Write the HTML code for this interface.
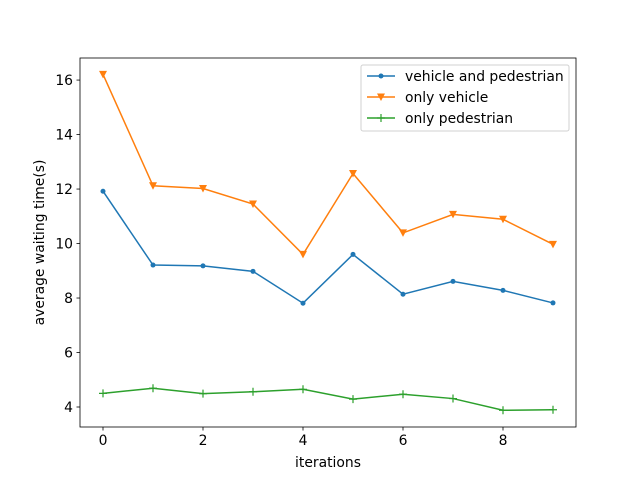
<!DOCTYPE html>
<html><head><meta charset="utf-8"><style>body{margin:0;background:#fff}svg{display:block;font-family:"DejaVu Sans","Liberation Sans",sans-serif}</style></head>
<body>
<svg id="chart" width="640" height="480" xmlns="http://www.w3.org/2000/svg">
<rect x="0" y="0" width="640" height="480" fill="#fff"/>
<g id="plot"></g>
</svg>
<script>
const iterations = [0,1,2,3,4,5,6,7,8,9];
const vehicleAndPedestrian = [11.92,9.21,9.18,8.98,7.81,9.6,8.14,8.61,8.28,7.82];
const onlyVehicle = [16.21,12.12,12.02,11.45,9.6,12.57,10.39,11.07,10.89,9.97];
const onlyPedestrian = [4.5,4.69,4.49,4.56,4.65,4.29,4.47,4.31,3.88,3.9];
const xTicks = [0,2,4,6,8];
const yTicks = [4,6,8,10,12,14,16];
const seriesNames = ["vehicle and pedestrian","only vehicle","only pedestrian"];

const NS="http://www.w3.org/2000/svg";
const L=80,R=576,T=58,B=427;
const FS=13.9;
const xMin=-0.46,xMax=9.46,yMin=3.266,yMax=16.81;
const xs=v=>L+(v-xMin)/(xMax-xMin)*(R-L);
const ys=v=>B-(v-yMin)/(yMax-yMin)*(B-T);
const g=document.getElementById('plot');
function mk(tag,attrs,parent){const e=document.createElementNS(NS,tag);for(const k in attrs)e.setAttribute(k,attrs[k]);(parent||g).appendChild(e);return e;}

const frame=mk('rect',{x:L,y:T,width:R-L,height:B-T,fill:'none',stroke:'#000','stroke-width':0.8});



xTicks.forEach(v=>{
  const t=mk('line',{x1:xs(v),x2:xs(v),y1:B,y2:B+3.5,stroke:'#000','stroke-width':0.8});
  
  
  const l=mk('text',{x:xs(v),y:B+18,'text-anchor':'middle','font-size':FS});
  l.textContent=v;
  
  
});
yTicks.forEach(v=>{
  const t=mk('line',{x1:L-3.5,x2:L,y1:ys(v),y2:ys(v),stroke:'#000','stroke-width':0.8});
  
  
  const l=mk('text',{x:L-7,y:ys(v)+5,'text-anchor':'end','font-size':FS});
  l.textContent=v;
  
  
});
const xt=mk('text',{x:(L+R)/2,y:467,'text-anchor':'middle','font-size':FS});
xt.textContent='iterations';


const yt=mk('text',{x:0,y:0,'text-anchor':'middle','font-size':FS,transform:`translate(44,${(T+B)/2}) rotate(-90)`});
yt.textContent='average waiting time(s)';



function marker(type,x,y,color,parent){
  if(type==='dot')return mk('circle',{cx:x,cy:y,r:2.5,fill:color},parent);
  if(type==='tri')return mk('path',{d:`M${x-4},${y-3.5}L${x+4},${y-3.5}L${x},${y+4}Z`,fill:color},parent);
  return mk('path',{d:`M${x-4},${y}H${x+4}M${x},${y-4}V${y+4}`,stroke:color,'stroke-width':1.2},parent);
}
const series=[[vehicleAndPedestrian,'#1f77b4','dot'],[onlyVehicle,'#ff7f0e','tri'],[onlyPedestrian,'#2ca02c','plus']];
series.forEach(([vals,c,m],si)=>{
  const sg=mk('g',{});
  
  
  const pl=mk('polyline',{points:vals.map((v,i)=>xs(iterations[i])+','+ys(v)).join(' '),fill:'none',stroke:c,'stroke-width':1.5},sg);
  
  
  vals.forEach((v,i)=>{const p=marker(m,xs(iterations[i]),ys(v),c,sg);
    
    });
});
const lg=mk('g',{});


mk('rect',{x:361,y:65,width:208,height:66,rx:2,fill:'#fff',stroke:'#ccc','stroke-width':1,opacity:0.9},lg);
series.forEach(([vals,c,m],i)=>{
  const y=76+i*21;
  const e=mk('g',{},lg);
  
  
  mk('line',{x1:367,x2:395,y1:y,y2:y,stroke:c,'stroke-width':1.5},e);
  marker(m,381,y,c,e);
  const t=mk('text',{x:405,y:y+5,'font-size':FS},e);
  t.textContent=seriesNames[i];
});
</script>
</body></html>
